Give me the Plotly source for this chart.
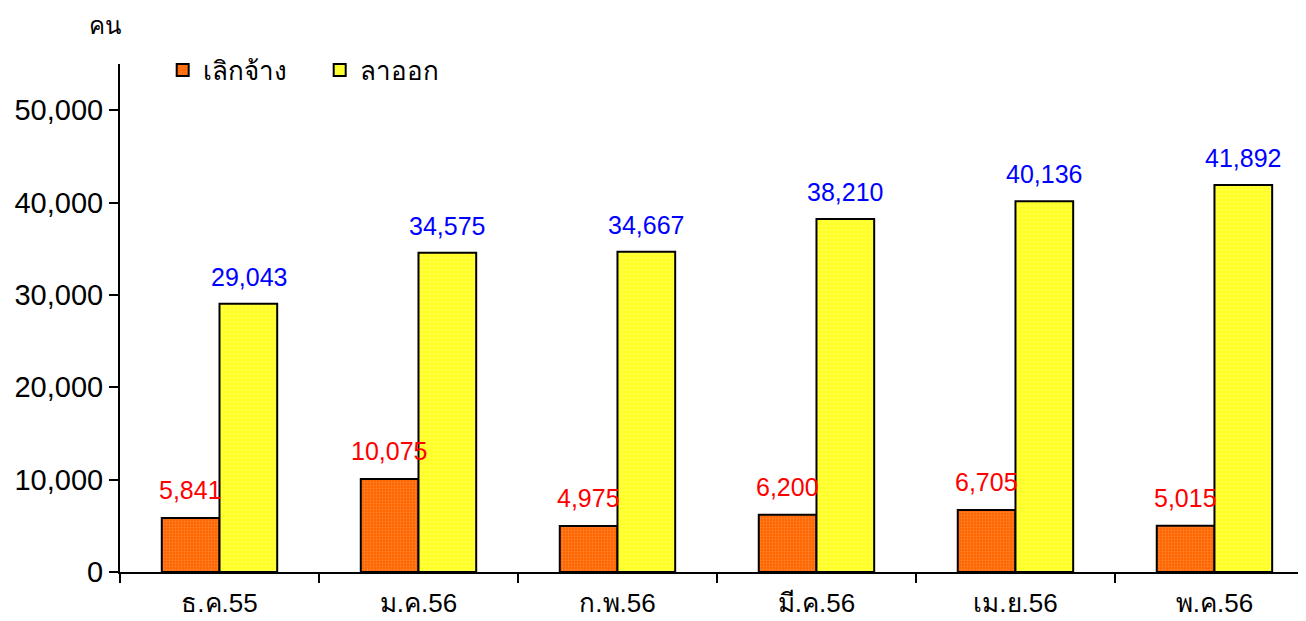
import plotly.graph_objects as go

categories = ["ธ.ค.55", "ม.ค.56", "ก.พ.56", "มี.ค.56", "เม.ย.56", "พ.ค.56"]
laid_off = [5841, 10075, 4975, 6200, 6705, 5015]
resigned = [29043, 34575, 34667, 38210, 40136, 41892]
series_names = ["เลิกจ้าง", "ลาออก"]
y_ticks = [0, 10000, 20000, 30000, 40000, 50000]

FONT = "Liberation Sans, Arial, DejaVu Sans, Noto Sans, sans-serif"

fig = go.Figure()
fig.add_trace(go.Bar(
    x=categories, y=laid_off, name=series_names[0],
    marker=dict(color="#FF6A10", line=dict(color="black", width=2),
                pattern=dict(shape=".", bgcolor="#FF6600", fgcolor="#FFA060", size=3, solidity=0.35)),
))
fig.add_trace(go.Bar(
    x=categories, y=resigned, name=series_names[1],
    marker=dict(color="#FFFF40", line=dict(color="black", width=2),
                pattern=dict(shape="+", bgcolor="#FFFF1A", fgcolor="#FFFFB0", size=4, solidity=0.3)),
))

for c, v in zip(categories, laid_off):
    fig.add_annotation(x=c, y=v, text=f"{v:,}", showarrow=False, xshift=-29, yshift=28,
                       yanchor="middle", font=dict(color="#FF0000", size=25, family=FONT))
for c, v in zip(categories, resigned):
    fig.add_annotation(x=c, y=v, text=f"{v:,}", showarrow=False, xshift=29, yshift=27,
                       yanchor="middle", font=dict(color="#0000FF", size=25, family=FONT))

fig.add_annotation(xref="paper", yref="paper", x=-0.0126, y=1.0, xanchor="center", yanchor="middle",
                   yshift=39, text="คน", showarrow=False,
                   font=dict(size=24, color="black", family=FONT))

fig.update_layout(
    width=1298, height=613,
    margin=dict(l=112, r=0, t=56, b=49),
    paper_bgcolor="white", plot_bgcolor="white",
    barmode="group", bargap=0.42, bargroupgap=0,
    font=dict(family=FONT, size=26, color="black"),
    legend=dict(orientation="h", x=0.036, y=0.988, xanchor="left", yanchor="middle",
                font=dict(size=26, family=FONT), traceorder="normal",
                itemwidth=30, entrywidth=112, bgcolor="rgba(0,0,0,0)"),
    showlegend=True,
)
fig.update_xaxes(
    range=[-0.5, 5.46], showline=True, linecolor="black", linewidth=2,
    ticks="outside", tickson="boundaries", ticklen=9, tickwidth=2, tickcolor="black",
    tickfont=dict(size=26, family=FONT), showgrid=False, ticklabelstandoff=7,
    automargin=False,
)
fig.update_yaxes(
    range=[0, 55000], tickvals=y_ticks, ticktext=[f"{t:,}" for t in y_ticks],
    showline=True, linecolor="black", linewidth=2,
    ticks="outside", ticklen=9, tickwidth=2, tickcolor="black",
    tickfont=dict(size=29, family=FONT), showgrid=False, zeroline=False,
    automargin=False,
)

fig.write_html("out.html")
